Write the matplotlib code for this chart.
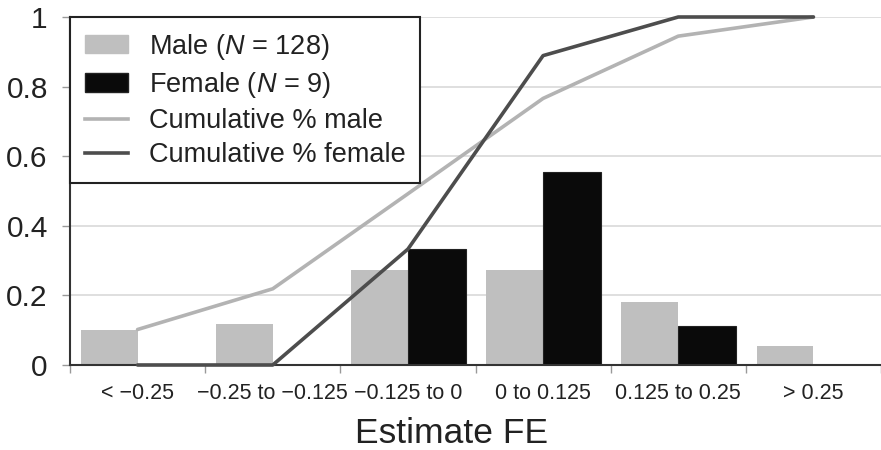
import matplotlib
matplotlib.use("Agg")
import matplotlib.pyplot as plt
from matplotlib.patches import Patch
from matplotlib.lines import Line2D
import numpy as np

categories = ["< \u22120.25", "\u22120.25 to \u22120.125", "\u22120.125 to 0",
              "0 to 0.125", "0.125 to 0.25", "> 0.25"]
male_share = [0.102, 0.117, 0.273, 0.273, 0.180, 0.055]
female_share = [0.0, 0.0, 0.333, 0.556, 0.111, 0.0]
cum_male = [0.102, 0.219, 0.492, 0.766, 0.945, 1.0]
cum_female = [0.0, 0.0, 0.333, 0.889, 1.0, 1.0]
y_ticks = [0, 0.2, 0.4, 0.6, 0.8, 1.0]
y_labels = ["0", "0.2", "0.4", "0.6", "0.8", "1"]

plt.rcParams['font.family'] = ['Liberation Sans', 'DejaVu Sans']
plt.rcParams['mathtext.fontset'] = 'custom'
plt.rcParams['mathtext.rm'] = 'Liberation Sans'
plt.rcParams['mathtext.it'] = 'Liberation Sans:italic'

fig = plt.figure(figsize=(8.81, 4.5), dpi=100)
ax = fig.add_axes([70/881, 1-365/450, 1-70/881, (365-17)/450])

x = np.arange(len(categories))
male_c = "#bfbfbf"
fem_c = "#0a0a0a"
ax.bar(x + 0.08, male_share, width=0.42, align='edge', color=male_c, zorder=2)
ax.bar(x + 0.50, female_share, width=0.43, align='edge', color=fem_c,
       edgecolor="#222222", linewidth=0.8, zorder=2)
ax.plot(x + 0.5, cum_male, color="#b3b3b3", lw=2.6, zorder=3, clip_on=False,
        solid_capstyle='round')
ax.plot(x + 0.5, cum_female, color="#4d4d4d", lw=2.6, zorder=4, clip_on=False,
        solid_capstyle='round')

ax.set_xlim(0, 811/136)
ax.set_ylim(0, 1)
ax.set_yticks(y_ticks)
ax.set_yticklabels(y_labels, fontsize=21.5, color="#222222")
ax.yaxis.grid(True, color="#d9d9d9", lw=1.2, zorder=0)
ax.set_axisbelow(True)
ax.tick_params(axis='y', length=6, width=1, color="#999999", pad=10)

ax.set_xticks(np.arange(0, 7))
ax.set_xticklabels([])
ax.set_xticks(x + 0.5, minor=True)
ax.set_xticklabels(categories, minor=True, fontsize=15.5, color="#222222")
ax.tick_params(axis='x', which='major', length=6, width=1, color="#999999")
ax.tick_params(axis='x', which='minor', length=0, pad=13)

for s in ['top', 'right']:
    ax.spines[s].set_visible(False)
for s in ['left', 'bottom']:
    ax.spines[s].set_color("#333333")
    ax.spines[s].set_linewidth(1.5)

ax.set_xlabel("Estimate FE", fontsize=25.5, color="#222222")
ax.xaxis.set_label_coords((452-70)/811, -0.148)

handles = [Patch(color=male_c), Patch(facecolor=fem_c, edgecolor="#222222"),
           Line2D([], [], color="#b3b3b3", lw=2.6),
           Line2D([], [], color="#4d4d4d", lw=2.6)]
labels = [r"Male ($N$ = 128)", r"Female ($N$ = 9)",
          "Cumulative % male", "Cumulative % female"]
leg = ax.legend(handles, labels, loc='upper left', bbox_to_anchor=(0.0, 1.0),
                borderaxespad=0, fontsize=19.5, frameon=True, fancybox=False,
                edgecolor="#222222", framealpha=1, handlelength=1.6,
                handleheight=0.65, handletextpad=0.75, labelspacing=0.3,
                borderpad=0.55)
leg.get_frame().set_linewidth(1.5)
for t in leg.get_texts():
    t.set_color("#222222")

fig.savefig("out.png", dpi=100)
